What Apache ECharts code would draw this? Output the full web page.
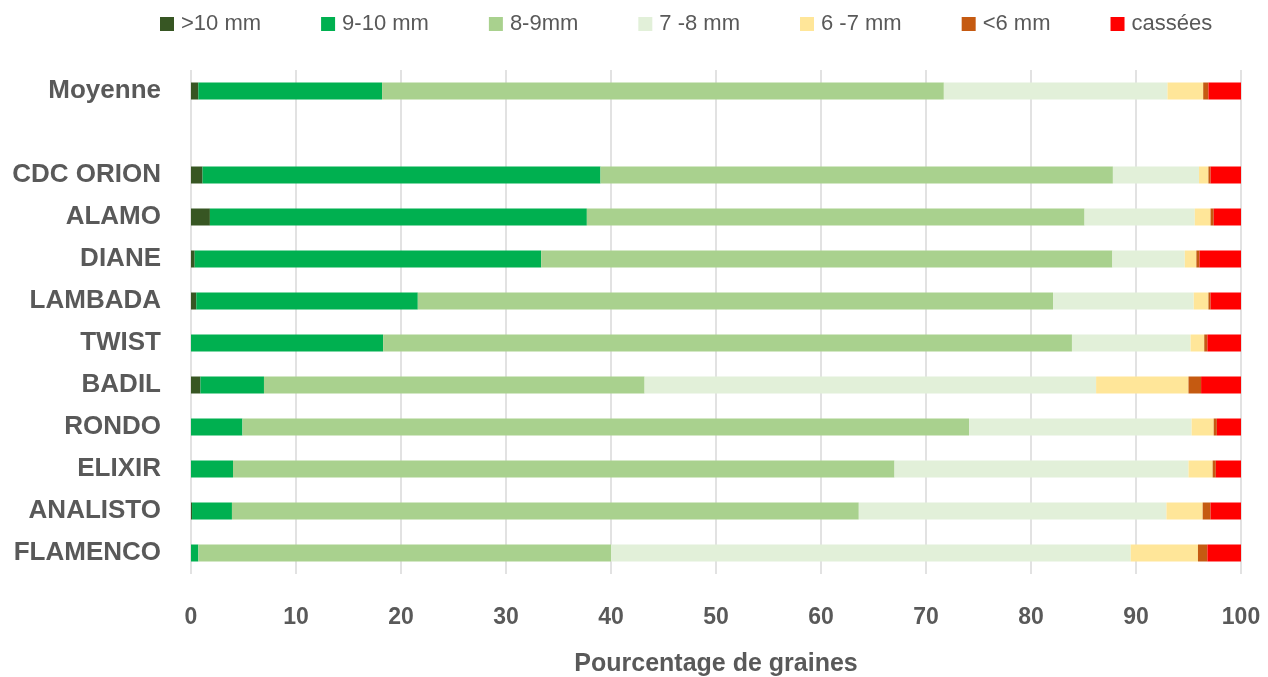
<!DOCTYPE html>
<html>
<head>
<meta charset="utf-8">
<script src="https://cdn.jsdelivr.net/npm/echarts@6/dist/echarts.min.js"></script>
<style>html,body{margin:0;padding:0;background:#fff}#c{width:1268px;height:677px}</style>
</head>
<body>
<div id="c"></div>
<script>
const categories = ['Moyenne', '', 'CDC ORION', 'ALAMO', 'DIANE', 'LAMBADA', 'TWIST', 'BADIL', 'RONDO', 'ELIXIR', 'ANALISTO', 'FLAMENCO'];
const seriesNames = ['>10 mm', '9-10 mm', '8-9mm', '7 -8 mm', '6 -7 mm', '<6 mm', 'cassées'];
const colors = ['#375623', '#00B050', '#A9D18E', '#E2F0D9', '#FFE699', '#C55A11', '#FF0000'];
const gt10   = [0.7, null, 1.1, 1.8, 0.35, 0.5, 0, 0.9, 0, 0, 0.1, 0];
const s9_10  = [17.5, null, 37.9, 35.9, 33.0, 21.1, 18.3, 6.05, 4.9, 4.0, 3.8, 0.7];
const s8_9   = [53.5, null, 48.8, 47.4, 54.4, 60.5, 65.6, 36.25, 69.2, 63.0, 59.7, 39.3];
const s7_8   = [21.3, null, 8.2, 10.5, 6.9, 13.4, 11.3, 43.0, 21.2, 28.0, 29.3, 49.5];
const s6_7   = [3.4, null, 0.9, 1.5, 1.1, 1.4, 1.3, 8.8, 2.1, 2.3, 3.45, 6.4];
const lt6    = [0.5, null, 0.2, 0.3, 0.3, 0.2, 0.3, 1.2, 0.3, 0.3, 0.75, 0.9];
const cassees= [3.1, null, 2.9, 2.6, 4.0, 2.9, 3.2, 3.8, 2.3, 2.4, 2.9, 3.2];
const allData = [gt10, s9_10, s8_9, s7_8, s6_7, lt6, cassees];

const font = "'Liberation Sans', Arial, sans-serif";
const chart = echarts.init(document.getElementById('c'));
chart.setOption({
  animation: false,
  legend: {
    top: 8, left: 155,
    itemWidth: 14, itemHeight: 14, itemGap: 60,
    icon: 'rect',
    textStyle: { fontFamily: font, fontSize: 22, color: '#595959', padding: [0, 0, 0, 2] },
    data: seriesNames
  },
  grid: { left: 191, right: 27, top: 70, bottom: 103, outerBoundsMode: 'none', containLabel: false },
  xAxis: {
    type: 'value', min: 0, max: 100, interval: 10,
    name: 'Pourcentage de graines', nameLocation: 'middle', nameGap: 78,
    nameTextStyle: { fontFamily: font, fontSize: 25, fontWeight: 'bold', color: '#595959' },
    axisLabel: { fontFamily: font, fontSize: 23, fontWeight: 'bold', color: '#595959', margin: 32 },
    axisLine: { show: false },
    axisTick: { show: false },
    splitLine: { show: true, lineStyle: { color: '#D9D9D9', width: 1.5 } }
  },
  yAxis: {
    type: 'category', data: categories, inverse: true,
    axisLine: { show: false }, axisTick: { show: false },
    axisLabel: { fontFamily: font, fontSize: 26, fontWeight: 'bold', color: '#595959', margin: 30 }
  },
  series: seriesNames.map((n, i) => ({
    name: n, type: 'bar', stack: 'total', barWidth: 17,
    itemStyle: { color: colors[i] },
    data: allData[i]
  }))
});
</script>
</body>
</html>
